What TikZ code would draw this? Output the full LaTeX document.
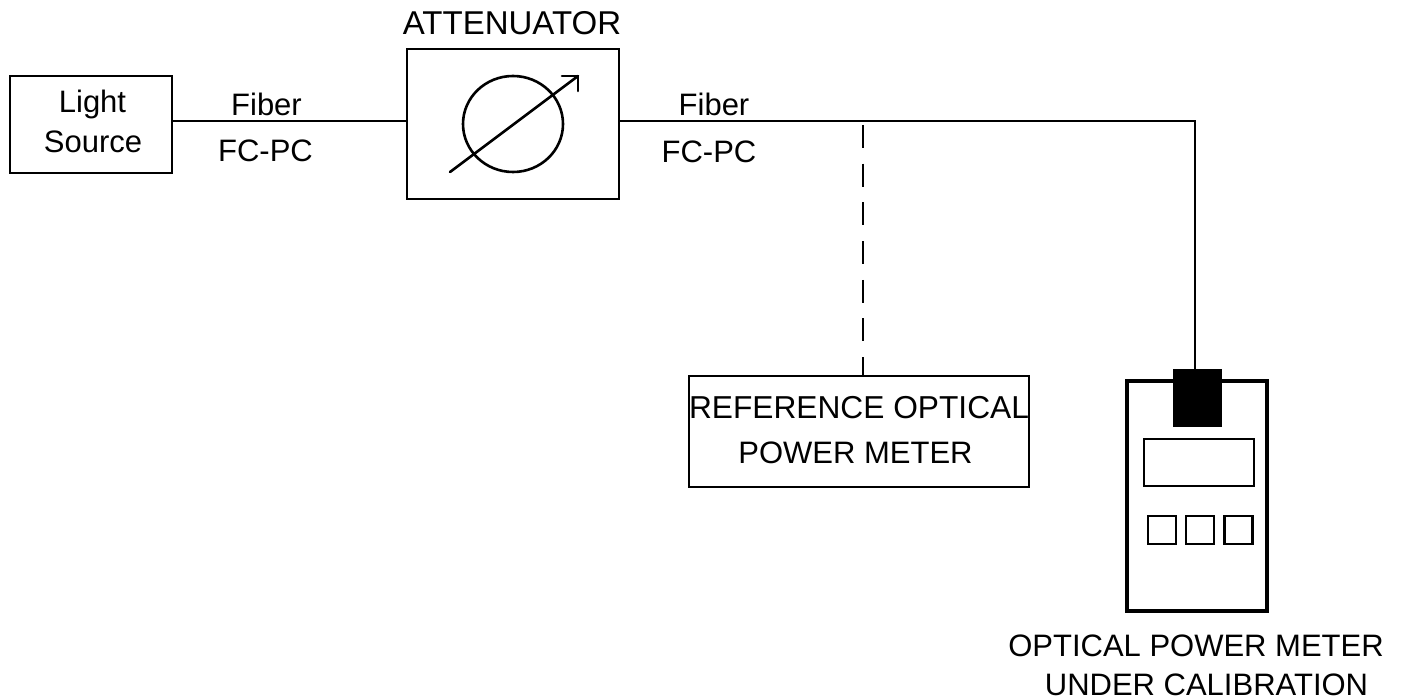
\documentclass[tikz,border=0pt]{standalone}
\usepackage{fontspec}
\setmainfont{Liberation Sans}
\tikzset{
 box/.style={draw=black,line width=2.6pt,inner sep=0pt,fill=white},
 lbl/.style={inner sep=0pt,anchor=base,font=\fontsize{31}{36}\selectfont,text=black},
 wire/.style={draw=black,line width=2.6pt},
}
\begin{document}
\begin{tikzpicture}[x=1pt,y=-1pt]
\useasboundingbox (0,0) rectangle (1401,700);
\node[box,minimum width=162pt,minimum height=97pt] (src) at (91,124.5) {};
\node[lbl] (t1) at (92.5,113) {Light};
\node[lbl] (t2) at (93,153) {Source};
\node[box,minimum width=212pt,minimum height=150pt] (att) at (513,124) {};
\node[lbl,font=\fontsize{33}{36}\selectfont] (attt) at (512,35) {ATTENUATOR};
\coordinate (corner) at (1195,121);
\node[box,minimum width=340pt,minimum height=111pt] (ref) at (859,431.5) {};
\node[lbl,font=\fontsize{31.7}{36}\selectfont] (r1) at (859,419) {REFERENCE OPTICAL};
\node[lbl] (r2) at (855.5,464) {POWER METER};
\node[box,minimum width=140pt,minimum height=230pt,line width=3.2pt] (opm) at (1197,496) {};
\node[draw=black,fill=black,minimum width=48pt,minimum height=57pt,inner sep=0pt] (conn) at (1197,397.5) {};
\node[box,minimum width=110pt,minimum height=47pt,line width=2.4pt] (disp) at (1199,462.5) {};
\node[box,minimum width=28pt,minimum height=28pt,line width=2.4pt] (b1) at (1162,530) {};
\node[box,minimum width=28pt,minimum height=28pt,line width=2.4pt] (b2) at (1200,530) {};
\node[box,minimum width=28pt,minimum height=28pt,line width=2.4pt] (b3) at (1238.5,530) {};
\node[lbl] (l1) at (1196,656) {OPTICAL POWER METER};
\node[lbl] (l2) at (1206.5,695) {UNDER CALIBRATION};
\node[lbl] (f1) at (266.5,116) {Fiber};
\node[lbl] (p1) at (265.5,162) {FC-PC};
\node[lbl] (f2) at (714,116) {Fiber};
\node[lbl] (p2) at (709,163) {FC-PC};
\coordinate (a) at (src.east |- 0,121);
\draw[wire] (a) -- (a -| att.west);
\draw[wire] (att.east |- corner) -- (corner) -- (conn.north -| corner);
\coordinate (tap) at (863,125);
\draw[line width=1.4pt,dash pattern=on 23pt off 15.7pt] (tap) -- (tap |- ref.north);
\draw[line width=2.6pt] (513,124) ellipse (50pt and 48pt);
\coordinate (arrS) at (450,172);
\coordinate (arrE) at (578,76);
\draw[line width=2.6pt,line cap=round] (arrS) -- (arrE);
\draw[line width=2.6pt,line cap=round,line join=miter] (562,76) -- (arrE) -- (578,91);
\end{tikzpicture}
\end{document}
